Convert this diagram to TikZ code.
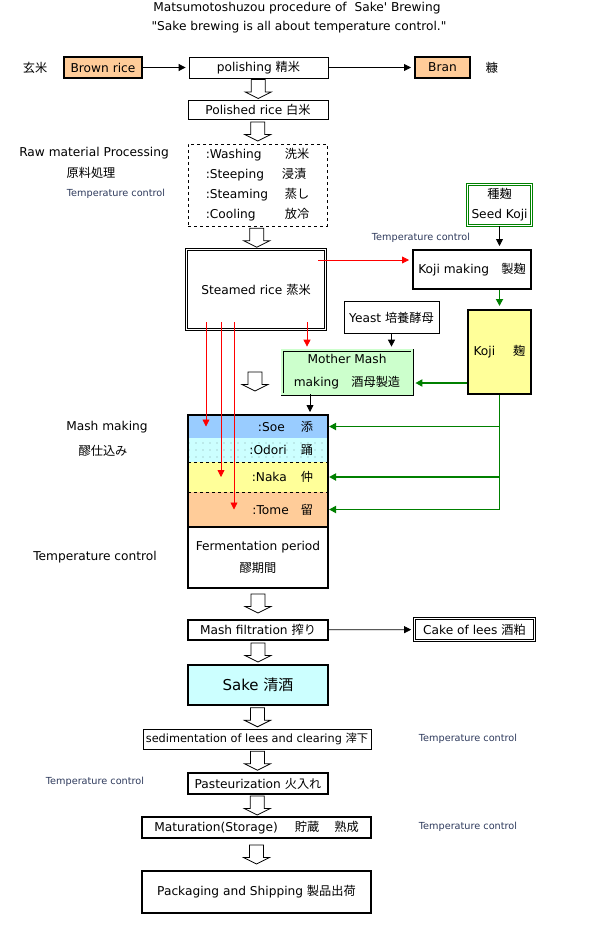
\documentclass[tikz,border=0pt]{standalone}
\usepackage{fontspec}
\setmainfont{DejaVu Sans}[Ligatures=TeXOff]
\newfontfamily\jpfont{Noto Sans CJK JP}
\usetikzlibrary{positioning,calc,arrows.meta,shadows,patterns.meta}

\definecolor{riceorange}{HTML}{FFCC99}
\definecolor{soeblue}{HTML}{99CCFF}
\definecolor{palecyan}{HTML}{CCFFFF}
\definecolor{kojiyellow}{HTML}{FFFF99}
\definecolor{mashgreen}{HTML}{CCFFCC}
\definecolor{arrowgreen}{HTML}{008000}
\definecolor{tempblue}{HTML}{2E3A5C}

\newcommand\jp[1]{{\jpfont #1}}

\begin{document}
\begin{tikzpicture}[x=1pt,y=-1pt,>={Triangle[length=7pt,width=7pt]},
  font=\fontsize{12.2}{14}\selectfont,
  box/.style={draw,line width=0.8pt,fill=white,inner sep=0pt,minimum width=140pt,minimum height=20pt},
  heavy/.style={box,line width=2pt},
  shaded/.style={drop shadow={shadow xshift=1.2pt,shadow yshift=-1.2pt,fill=black,opacity=1}},
  twin/.style={box,double,double distance=1.6pt,line width=0.7pt},
  band/.style={inner sep=0pt,outer sep=0pt,minimum width=140pt,text width=110pt,align=right},
  smalltemp/.style={font=\fontsize{9.7}{11}\selectfont,text=tempblue},
  flow/.style={->,line width=0.8pt,shorten >=3pt},
  redflow/.style={flow,red},
  greenflow/.style={flow,arrowgreen,line width=1.8pt},
  hollowarrow/.pic={\draw[line width=0.8pt,fill=white] (-7,-9.5) -- (7,-9.5) -- (7,3) -- (13,3) -- (0,9.5) -- (-13,3) -- (-7,3) -- cycle;}]

  \useasboundingbox (0,0) rectangle (595,933);

  % title
  \node (title) at (297,8) {Matsumotoshuzou procedure of \ Sake' Brewing};
  \node (motto) at (299,27) {"Sake brewing is all about temperature control."};

  % polishing
  \node (genmai) at (35,68) {\jp{玄米}};
  \node[heavy,fill=riceorange,minimum width=78pt,minimum height=21pt] (brown) at (103,67.5) {Brown rice};
  \node[box,shaded,minimum width=139pt,minimum height=21pt] (polish) at (258.5,67.5) {polishing \jp{精米}};
  \node[heavy,fill=riceorange,minimum width=55pt,minimum height=21pt] (bran) at (442.5,67.5) {Bran};
  \node (nuka) at (492,68) {\jp{糠}};
  \node[box,minimum height=19pt] (polished) at (258,109.5) {Polished rice \jp{白米}};

  % raw material processing
  \node (rawlbl) at (94,153) {Raw material Processing};
  \node (rawjp) at (91,173) {\jp{原料処理}};
  \node[smalltemp] (tempraw) at (116,194) {Temperature control};
  \node[box,dashed,minimum width=139pt,minimum height=82pt,align=left,font=\fontsize{12.2}{20}\selectfont] (raw) at (257.5,185)
    {\makebox[79pt][l]{:Washing}\jp{洗米}\\\makebox[76pt][l]{:Steeping}\jp{浸漬}\\
     \makebox[79pt][l]{:Steaming}\jp{蒸し}\\\makebox[79pt][l]{:Cooling}\jp{放冷}};
  \node[twin,minimum width=139pt,minimum height=80pt] (steamed) at (256,289.5) {Steamed rice \jp{蒸米}};

  % koji and mother mash
  \node[twin,draw=arrowgreen,minimum width=64pt,minimum height=41pt,align=center,font=\fontsize{12.2}{20}\selectfont] (seed) at (499.5,205) {\jp{種麹}\\Seed Koji};
  \node[smalltemp] (tempkoji) at (421,238) {Temperature control};
  \node[heavy,minimum width=118pt,minimum height=39pt] (kojimk) at (472,269.5) {Koji making\quad\jp{製麹}};
  \node[heavy,fill=kojiyellow,minimum width=63pt,minimum height=84pt] (koji) at (499.5,352) {Koji\hspace{18pt}\jp{麹}};
  \node[box,minimum width=95pt,minimum height=32pt] (yeast) at (391.5,317.5) {Yeast \jp{培養酵母}};
  \node[twin,fill=mashgreen,double=mashgreen,minimum width=130pt,minimum height=44pt,align=center,font=\fontsize{12.2}{23}\selectfont] (mother) at (347,372) {Mother Mash\\making\quad\jp{酒母製造}};

  % mash making
  \node (mashlbl) at (107,427) {Mash making};
  \node (mashjp) at (103,451) {\jp{醪仕込み}};
  \node (tempferm) at (95,557) {Temperature control};
  \node[band,fill=soeblue,minimum height=23pt] (soe) at (258,426.5) {:Soe\hspace{16pt}\jp{添}};
  \node[band,preaction={fill=palecyan},pattern={Dots[radius=0.45pt,distance=7pt]},minimum height=24pt,below=0pt of soe] (odori) {:Odori\hspace{14pt}\jp{踊}};
  \node[band,fill=kojiyellow,minimum height=30pt,below=0pt of odori] (naka) {:Naka\hspace{14pt}\jp{仲}};
  \node[band,fill=riceorange,minimum height=35pt,below=0pt of naka] (tome) {:Tome\hspace{12pt}\jp{留}};
  \node[band,fill=white,minimum height=61pt,text width=140pt,align=center,font=\fontsize{12.2}{22}\selectfont,below=0pt of tome] (ferm) {Fermentation period\\\jp{醪期間}};
  \draw[dashed,line width=0.8pt] (odori.south west) -- (odori.south east);
  \draw[dashed,line width=0.8pt] (naka.south west) -- (naka.south east);
  \draw[line width=2pt] (tome.south west) -- (tome.south east);
  \draw[line width=2pt] (soe.north west) rectangle (ferm.south east);

  % pressing to shipping
  \node[heavy] (filt) at (258,630) {Mash filtration \jp{搾り}};
  \node[twin,shaded,minimum width=120pt,minimum height=22pt] (lees) at (474.5,629.5) {Cake of lees \jp{酒粕}};
  \node[heavy,fill=palecyan,minimum height=40pt,font=\fontsize{15}{18}\selectfont] (sake) at (258,685) {Sake \jp{清酒}};
  \node[box,shaded,minimum width=228pt,font=\fontsize{11.3}{14}\selectfont] (sedim) at (257,739) {sedimentation of lees and clearing \jp{滓下}};
  \node[smalltemp] (tempsed) at (468,739) {Temperature control};
  \node[heavy,minimum height=21pt] (pasteur) at (258,783.5) {Pasteurization \jp{火入れ}};
  \node[smalltemp] (temppast) at (95,782) {Temperature control};
  \node[heavy,minimum width=229pt,minimum height=21pt] (matur) at (256.5,827.5) {Maturation(Storage)\hspace{17pt}\jp{貯蔵}\hspace{15pt}\jp{熟成}};
  \node[smalltemp] (tempmat) at (468,827) {Temperature control};
  \node[heavy,minimum width=229pt,minimum height=42pt] (pack) at (256.5,892) {Packaging and Shipping \jp{製品出荷}};

  % connectors
  \draw[flow] (brown) -- (polish);
  \draw[flow] (polish) -- (bran);
  \draw[flow] (seed) -- (seed |- kojimk.north);
  \coordinate (hot) at (318,260);
  \draw[redflow] (hot) -- (hot -| kojimk.west);
  \draw[greenflow] (koji.north |- kojimk.south) -- (koji.north);
  \draw[greenflow] ($(koji.west)+(0,31)$) -- ($(mother.east)+(0,11)$);
  \draw[flow] (yeast) -- (yeast |- mother.north);
  \coordinate (r0) at (307,322);
  \draw[redflow] (r0) -- (r0 |- mother.north);
  \coordinate (mm) at ($(mother.south)+(-37,0)$);
  \draw[flow] (mm) -- (mm |- soe.north);
  \coordinate (r1) at (206,322);
  \coordinate (r2) at (221,322);
  \coordinate (r3) at (234,322);
  \draw[redflow,shorten >=0pt] (r1) -- (r1 |- soe);
  \draw[redflow,shorten >=0pt] (r2) -- (r2 |- naka);
  \draw[redflow,shorten >=0pt] (r3) -- (r3 |- tome);
  \draw[greenflow,shorten >=1pt] (koji.south) |- (tome.east);
  \draw[greenflow,shorten >=1pt] (koji.south |- soe.east) -- (soe.east);
  \draw[greenflow,shorten >=1pt] (koji.south |- naka.east) -- (naka.east);
  \draw[flow] (filt) -- (lees);

  % hollow arrows
  \pic at ($(polish.south)!0.5!(polished.north)$) {hollowarrow};
  \pic at ($(polished.south)!0.5!(raw.north)$) {hollowarrow};
  \pic at ($(raw.south)!0.5!(steamed.north)$) {hollowarrow};
  \pic at (255,381.5) {hollowarrow};
  \pic at ($(ferm.south)!0.5!(filt.north)$) {hollowarrow};
  \pic at ($(filt.south)!0.5!(sake.north)$) {hollowarrow};
  \pic at ($(sake.south)!0.5!(sedim.north)$) {hollowarrow};
  \pic at ($(sedim.south)!0.5!(pasteur.north)$) {hollowarrow};
  \pic at ($(pasteur.south)!0.5!(matur.north)$) {hollowarrow};
  \pic at ($(matur.south)!0.5!(pack.north)$) {hollowarrow};
\end{tikzpicture}
\end{document}
